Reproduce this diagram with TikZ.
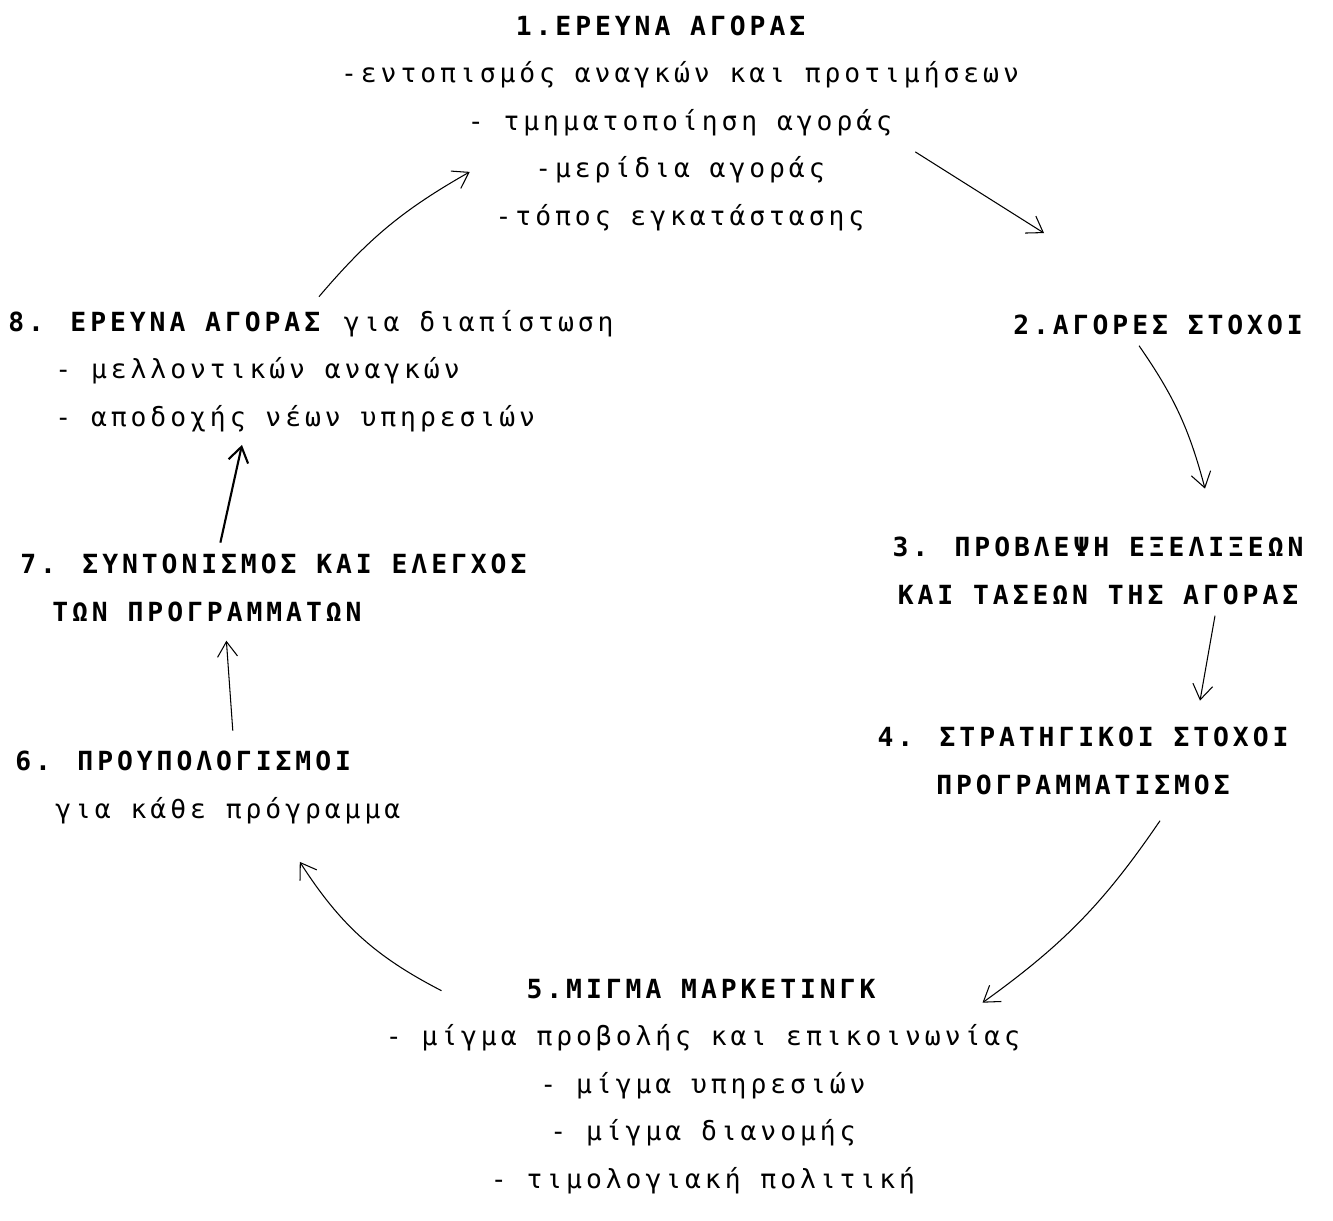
\documentclass[tikz,border=0pt]{standalone}
\usepackage{fontspec}
\setmainfont{DejaVu Sans Mono}[LetterSpace=15]
\usetikzlibrary{arrows.meta}
\tikzset{mybox/.style={
  inner sep=0pt,
  font=\fontsize{15}{27}\selectfont,
  },
  myarrow/.style={
  -{Straight Barb[length=3mm,width=4mm]},
  semithick,
  },
  }

\begin{document}
\begin{tikzpicture}[x=0.02cm, y=-0.02cm]
  \useasboundingbox (0,0) rectangle (1333,1221);
  \node [mybox, align=center, anchor=base] (r1) at (680,225)
    {\textbf{1.ΕΡΕΥΝΑ ΑΓΟΡΑΣ}\hspace*{0.7cm}\\-εντοπισμός αναγκών και προτιμήσεων\\- τμηματοποίηση αγοράς\\-μερίδια αγοράς\\-τόπος εγκατάστασης};
  \node [mybox, anchor=base west] (r2) at (1013,334) {\textbf{2.ΑΓΟΡΕΣ ΣΤΟΧΟΙ}};
  \node [mybox, align=center, anchor=base] (r3) at (1100,604)
    {\textbf{3. ΠΡΟΒΛΕΨΗ ΕΞΕΛΙΞΕΩΝ}\\\textbf{ΚΑΙ ΤΑΣΕΩΝ ΤΗΣ ΑΓΟΡΑΣ}};
  \node [mybox, align=center, anchor=base] (r4) at (1085,794)
    {\textbf{4. ΣΤΡΑΤΗΓΙΚΟΙ ΣΤΟΧΟΙ}\\\textbf{ΠΡΟΓΡΑΜΜΑΤΙΣΜΟΣ}};
  \node [mybox, align=center, anchor=base] (r5) at (703,1188)
    {\textbf{5.ΜΙΓΜΑ ΜΑΡΚΕΤΙΝΓΚ}\\- μίγμα προβολής και επικοινωνίας\\- μίγμα υπηρεσιών\\- μίγμα διανομής\\- τιμολογιακή πολιτική};
  \node [mybox, align=left, anchor=base west] (r6) at (15,818)
    {\textbf{6. ΠΡΟΥΠΟΛΟΓΙΣΜΟΙ}\\\hspace*{0.8cm}για κάθε πρόγραμμα};
  \node [mybox, align=left, anchor=base west] (r7) at (20,621)
    {\textbf{7. ΣΥΝΤΟΝΙΣΜΟΣ ΚΑΙ ΕΛΕΓΧΟΣ}\\\hspace*{0.64cm}\textbf{ΤΩΝ ΠΡΟΓΡΑΜΜΑΤΩΝ}};
  \node [mybox, align=left, anchor=base west] (r8) at (8,426)
    {\textbf{8. ΕΡΕΥΝΑ ΑΓΟΡΑΣ} για διαπίστωση\\\hspace*{0.94cm}- μελλοντικών αναγκών\\\hspace*{0.94cm}- αποδοχής νέων υπηρεσιών};

  \draw [myarrow] ([shift={(8,-13)}]r8.north) to[bend left=10] ([shift={(129,-59)}]r1.south west);
  \draw [myarrow] ([shift={(-104,-79)}]r1.south east) -- ([shift={(-116,-81)}]r2.north);
  \draw [myarrow] ([shift={(-21,11)}]r2.south) to[bend left=10] ([shift={(105,-48)}]r3.north);
  \draw [myarrow] ([shift={(115,11)}]r3.south) -- ([shift={(115,-26)}]r4.north);
  \draw [myarrow] ([shift={(75,26)}]r4.south) to[bend left=10] ([shift={(-38,24)}]r5.north east);
  \draw [myarrow] ([shift={(56,12)}]r5.north west) to[bend left=15] ([shift={(92,38)}]r6.south);
  \draw [myarrow] ([shift={(25,-20)}]r6.north) -- ([shift={(-49,19)}]r7.south);
  \draw [myarrow, line width=1.2pt] ([shift={(-55,-11)}]r7.north) -- ([shift={(-69,13)}]r8.south);
\end{tikzpicture}
\end{document}
